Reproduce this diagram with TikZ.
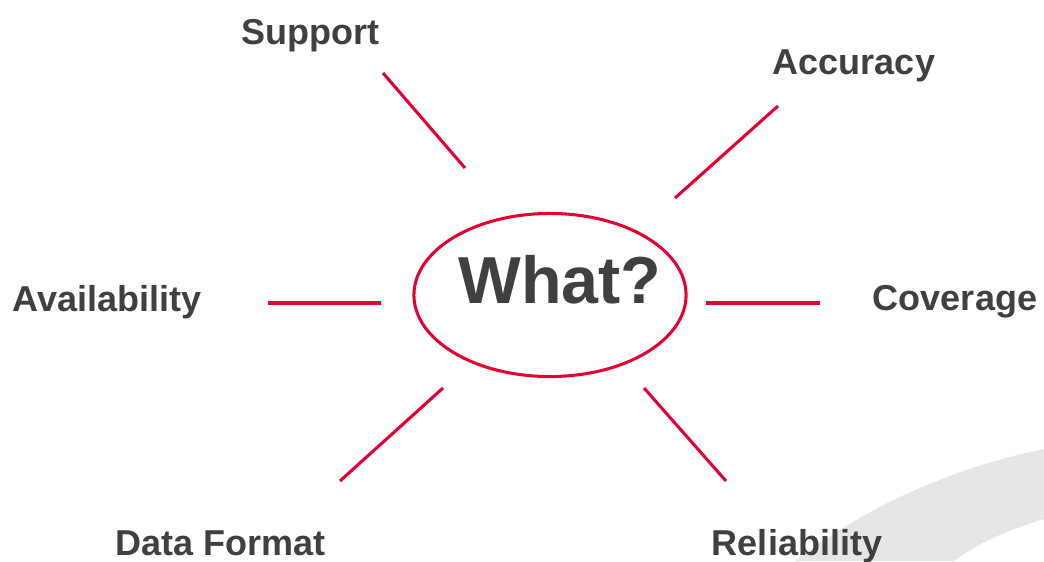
\documentclass[tikz,border=0pt]{standalone}
\usepackage{fontspec}
\setmainfont{Liberation Sans}
\usepackage{xcolor}
\definecolor{spokered}{RGB}{230,0,50}
\definecolor{labelgrey}{RGB}{64,64,64}
\definecolor{swoosh}{RGB}{229,230,232}
\usetikzlibrary{shapes.geometric}

\tikzset{
  label/.style={text=labelgrey,font=\bfseries\fontsize{26}{30}\selectfont,inner sep=0pt,anchor=base},
  spoke/.style={spokered,line width=2.2pt}
}

\begin{document}
\begin{tikzpicture}[x=0.01in,y=-0.01in]
\useasboundingbox (0,0) rectangle (1044,561);

    % grey band behind
    \fill[swoosh] (795,561) .. controls (868,505) and (955,467) .. (1044,449)
        -- (1044,519) .. controls (1008,530) and (978,543) .. (954,561) -- cycle;

    \node[draw=spokered,line width=2.2pt,ellipse,inner sep=0pt,minimum width=2.72in,minimum height=1.63in] (what) at (550,295) {};
    \node[text=labelgrey,font=\bfseries\fontsize{48}{52}\selectfont,inner sep=0pt,anchor=base] (whattext) at (560,303) {What?};

    \node[label] (support) at (310,45) {Support};
    \node[label] (accuracy) at (854,75) {Accuracy};
    \node[label] (avail) at (107,311) {Availability};
    \node[label] (coverage) at (955,310) {Coverage};
    \node[label] (format) at (221,555) {Data Format};
    \node[label] (reliab) at (797,555) {Reliability};

    \coordinate (s1) at (383,73);  \coordinate (s2) at (465,168);
    \coordinate (a1) at (778,106); \coordinate (a2) at (675,198);
    \coordinate (v1) at (268,303); \coordinate (v2) at (381,303);
    \coordinate (c1) at (706,303); \coordinate (c2) at (820,303);
    \coordinate (f1) at (443,388); \coordinate (f2) at (340,481);
    \coordinate (r1) at (644,388); \coordinate (r2) at (726,481);

    \draw[spoke] (s1) -- (s2);
    \draw[spoke] (a1) -- (a2);
    \draw[spoke] (v1) -- (v2);
    \draw[spoke] (c1) -- (c2);
    \draw[spoke] (f1) -- (f2);
    \draw[spoke] (r1) -- (r2);
\end{tikzpicture}
\end{document}
